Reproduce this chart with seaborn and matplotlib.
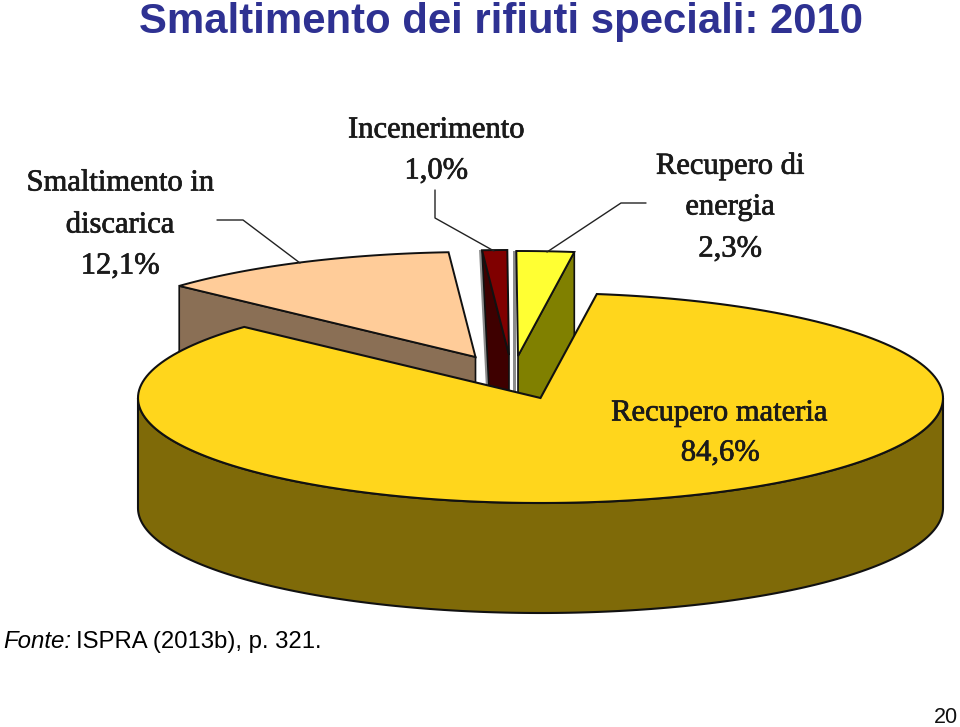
import numpy as np
import matplotlib.pyplot as plt
import matplotlib.patheffects as pe
import seaborn as sns

# Data
slice_names = ["Recupero materia", "Recupero di energia", "Incenerimento", "Smaltimento in discarica"]
slice_pct = [84.6, 2.3, 1.0, 12.1]
pct_labels = ["84,6%", "2,3%", "1,0%", "12,1%"]
top_colors = ["#FFD61C", "#FFFF33", "#800000", "#FFCC99"]
wall_colors = ["#7F6A08", "#808000", "#3E0000", "#8A6F55"]

# pie geometry, in pixels of the slide
CX, CY = 540.5, 398
RX, RY = 402.5, 105
DEPTH = 110
START_ANGLE = 137.4
explode = [(0, 0), (-22.5, -42), (-31.5, -43), (-65, -41)]

sns.set_theme(style="white")
plt.rcParams['font.family'] = ['Liberation Sans', 'DejaVu Sans']

fig = plt.figure(figsize=(9.6, 7.27), dpi=100)
ax = fig.add_axes([0, 0, 1, 1])
ax.set_xlim(0, 960)
ax.set_ylim(727, 0)
ax.axis('off')


def rim(a0, a1, dx=0, dy=0):
    t = np.radians(np.linspace(a0, a1, 200))
    return CX + dx + RX * np.cos(t), CY + dy - RY * np.sin(t)


# slice angles from the percentages
ends = START_ANGLE + np.cumsum(slice_pct) * 3.6
starts = ends - np.array(slice_pct) * 3.6

# the small slices first (back to front), main slice on top
for i in [3, 2, 1]:
    dx, dy = explode[i]
    a0 = starts[i] % 360
    a1 = a0 + slice_pct[i] * 3.6
    xs, ys = rim(a0, a1, dx, dy)
    apex = (CX + dx, CY + dy)
    # the cut side looking at us is the corner farthest from straight up
    if abs(a0 - 90) > abs(a1 - 90):
        corner = (xs[0], ys[0])
    else:
        corner = (xs[-1], ys[-1])
    lean = 7.5 if i == 2 else 0
    drop = DEPTH + 40 if i == 2 else DEPTH
    if i in (1, 2):
        # thin grey side of the narrow slices
        left = xs.min()
        top = ys.min()
        ax.fill([left - 3, left, left + lean, left - 3 + lean],
                [top, top, top + DEPTH + 40, top + DEPTH + 40],
                color="#8C8C8C", lw=0, zorder=i)
    ax.fill([corner[0], apex[0], apex[0], corner[0] + lean],
            [corner[1], apex[1], apex[1] + drop, corner[1] + drop],
            facecolor=wall_colors[i], edgecolor="#111111", lw=1.2, zorder=i)
    ax.fill(np.r_[apex[0], xs], np.r_[apex[1], ys],
            facecolor=top_colors[i], edgecolor="#111111", lw=1.4, zorder=i)

# main slice
xs, ys = rim(180, 360)
ax.fill(np.r_[xs, xs[::-1]], np.r_[ys, ys[::-1] + DEPTH],
        facecolor=wall_colors[0], edgecolor="#111111", lw=1.5, zorder=5)
xs, ys = rim(starts[0], ends[0])
ax.fill(np.r_[CX, xs], np.r_[CY, ys],
        facecolor=top_colors[0], edgecolor="#111111", lw=1.5, zorder=6)

# leader lines
leaders = [
    ([217, 243, 300], [220, 220, 263]),
    ([435, 435, 494], [190, 218, 251]),
    ([646, 621, 547], [203, 203, 252]),
]
for lx, ly in leaders:
    sns.lineplot(x=lx, y=ly, sort=False, estimator=None, color="#222222", lw=1.0, ax=ax, zorder=7)
ax.set_xlim(0, 960)
ax.set_ylim(727, 0)
ax.axis('off')

# labels
serif = ['Liberation Serif', 'DejaVu Serif']
lab = dict(family=serif, fontsize=22, color="#1A1A1A", ha='center', va='center', zorder=8,
           path_effects=[pe.withStroke(linewidth=0.5, foreground="#1A1A1A")])
ax.text(436, 130, "Incenerimento", **lab)
ax.text(436, 171, pct_labels[2], **lab)
ax.text(730, 166, "Recupero di", **lab)
ax.text(730, 207, "energia", **lab)
ax.text(730, 249, pct_labels[1], **lab)
ax.text(120, 183, "Smaltimento in", **lab)
ax.text(120, 225, "discarica", **lab)
ax.text(120, 266, pct_labels[3], **lab)
ax.text(719, 413, "Recupero materia", **lab)
ax.text(720, 453, pct_labels[0], **lab)

# slide text
ax.text(501, 22, "Smaltimento dei rifiuti speciali: 2010", fontsize=30.2, fontweight='bold',
        color="#2E3192", ha='center', va='center', zorder=9)
ax.text(3, 648, "Fonte:", fontsize=17.3, fontstyle='italic', color="black", ha='left', va='baseline')
ax.text(76, 648, "ISPRA (2013b), p. 321.", fontsize=17.2, color="black", ha='left', va='baseline')
ax.text(958, 723, "20", fontsize=15.5, color="#111111", ha='right', va='baseline')

fig.savefig('out.png', dpi=100)
